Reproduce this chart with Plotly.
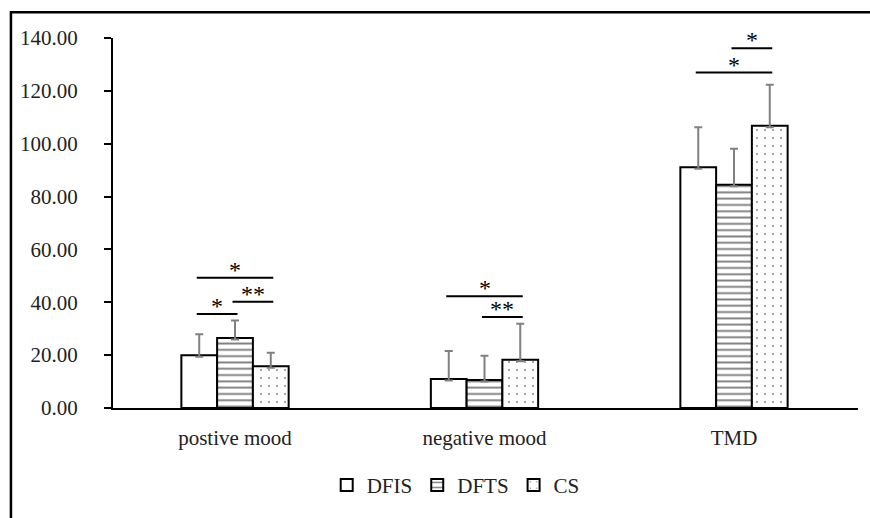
import plotly.graph_objects as go

# Mood scores by group (mean and SD)
categories = ["postive mood", "negative mood", "TMD"]
groups = ["DFIS", "DFTS", "CS"]
means = {
    "DFIS": [20.0, 11.0, 91.1],
    "DFTS": [26.5, 10.6, 84.5],
    "CS":   [15.8, 18.3, 106.8],
}
sds = {
    "DFIS": [7.9, 10.6, 15.1],
    "DFTS": [6.6, 9.2, 13.6],
    "CS":   [5.1, 13.6, 15.5],
}

# Significance comparisons: (category index, group a, group b, label, bracket level)
comparisons = [
    (0, "DFIS", "CS", "*", 49.3),
    (0, "DFIS", "DFTS", "*", 35.6),
    (0, "DFTS", "CS", "**", 40.2),
    (1, "DFIS", "CS", "*", 42.3),
    (1, "DFTS", "CS", "**", 34.4),
    (2, "DFTS", "CS", "*", 136.1),
    (2, "DFIS", "CS", "*", 126.9),
]

FONT = "'Liberation Serif', 'Times New Roman', 'DejaVu Serif', serif"
BARGAP = 0.57
bar_w = (1 - BARGAP) / len(groups)

patterns = {
    "DFIS": dict(shape=""),
    "DFTS": dict(shape="-", size=6.3, solidity=0.3, fgcolor="black", bgcolor="white", fillmode="overlay"),
    "CS":   dict(shape=".", size=8, solidity=0.04, fgcolor="black", bgcolor="white", fillmode="overlay"),
}

fig = go.Figure()
xs = list(range(len(categories)))
for g in groups:
    fig.add_trace(go.Bar(
        name=g,
        x=xs,
        y=means[g],
        marker=dict(color="white", line=dict(color="black", width=2), pattern=patterns[g]),
        error_y=dict(type="data", symmetric=False, array=sds[g],
                     arrayminus=[0.6] * len(categories),
                     color="#808080", thickness=2, width=4),
    ))

# brackets and stars
shapes = []
annotations = []
for ci, a, b, label, level in comparisons:
    xa = ci + (groups.index(a) - 1) * bar_w
    xb = ci + (groups.index(b) - 1) * bar_w
    shapes.append(dict(type="line", xref="x", yref="y", x0=xa - 0.01, x1=xb + 0.01,
                       y0=level, y1=level, line=dict(color="black", width=2)))
    annotations.append(dict(x=(xa + xb) / 2, y=level, xref="x", yref="y",
                            text=label, showarrow=False, yanchor="bottom", yshift=-7,
                            font=dict(family=FONT, size=24, color="black")))

# outer frame
shapes.append(dict(type="rect", xref="paper", yref="paper", x0=-0.137, x1=1.6,
                   y0=-0.6, y1=1.0697, line=dict(color="black", width=2.5),
                   fillcolor="rgba(0,0,0,0)", layer="below"))

fig.update_layout(
    width=870, height=518,
    margin=dict(l=113, r=12, t=38, b=107),
    paper_bgcolor="white", plot_bgcolor="white",
    barmode="group", bargap=BARGAP, bargroupgap=0,
    font=dict(family=FONT, size=21, color="#222"),
    showlegend=True,
    legend=dict(orientation="h", x=0.46, xanchor="center", y=-0.209, yanchor="middle",
                xref="paper", font=dict(family=FONT, size=21, color="#222"),
                itemwidth=30, tracegroupgap=0),
    shapes=shapes,
    annotations=annotations,
)
fig.update_xaxes(range=[-0.489, 2.497], tickvals=xs, ticktext=categories,
                 showline=True, linecolor="black", linewidth=2, ticks="",
                 showgrid=False, zeroline=False, ticklabelstandoff=10,
                 tickfont=dict(family=FONT, size=21, color="#222"))
fig.update_yaxes(range=[0, 140], dtick=20, tickformat=".2f",
                 showline=True, linecolor="black", linewidth=2,
                 ticks="outside", ticklen=7, tickwidth=1.5, tickcolor="black",
                 showgrid=False, zeroline=False, ticklabelstandoff=22,
                 tickfont=dict(family=FONT, size=21, color="#222"))

fig.write_html("out.html")
